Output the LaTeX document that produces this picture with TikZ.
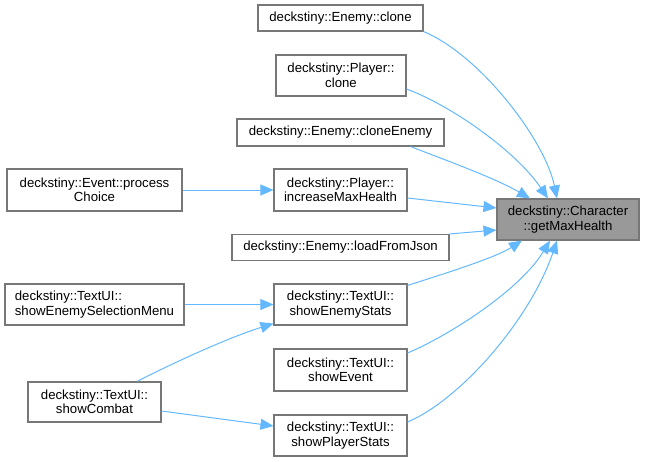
\documentclass[tikz,border=0pt]{standalone}
\usepackage{fontspec}
\setmainfont{Liberation Sans}
\usetikzlibrary{arrows.meta}
\definecolor{edgeblue}{HTML}{63B8FF}
\definecolor{boxline}{HTML}{777777}
\definecolor{mainfill}{HTML}{999999}
\tikzset{
  fn/.style={draw=boxline, line width=1.1pt, fill=white, inner sep=0pt, align=center,
    font=\fontsize{13.2}{14.5}\selectfont},
  mainfn/.style={fn, fill=mainfill},
  call/.style={draw=edgeblue, line width=1pt, -{Triangle[length=13pt,width=11pt]}}
}
\begin{document}
\begin{tikzpicture}[x=1pt,y=-1pt]
\useasboundingbox (0,0) rectangle (645,461);
% nodes
\node[fn, minimum width=165pt, minimum height=26pt] (ec) at (340.5,18) {deckstiny::Enemy::clone};
\node[fn, minimum width=130pt, minimum height=41pt] (pc) at (341,75.5) {deckstiny::Player::\\clone};
\node[fn, minimum width=207pt, minimum height=27pt] (ece) at (340.5,132.5) {deckstiny::Enemy::cloneEnemy};
\node[fn, minimum width=175pt, minimum height=42pt] (epc) at (94.5,190) {deckstiny::Event::process\\Choice};
\node[fn, minimum width=133pt, minimum height=42pt] (pim) at (340.5,190) {deckstiny::Player::\\increaseMaxHealth};
\node[mainfn, minimum width=142pt, minimum height=41pt] (cg) at (568,219.5) {deckstiny::Character\\::getMaxHealth};
\node[fn, minimum width=217pt, minimum height=26pt] (elj) at (340.5,247.5) {deckstiny::Enemy::loadFromJson};
\node[fn, minimum width=179pt, minimum height=41pt, align=left] (tesm) at (94.5,304.5) {deckstiny::TextUI::\\showEnemySelectionMenu};
\node[fn, minimum width=133pt, minimum height=41pt] (tes) at (340.5,304.5) {deckstiny::TextUI::\\showEnemyStats};
\node[fn, minimum width=133pt, minimum height=42pt] (tev) at (340.5,370) {deckstiny::TextUI::\\showEvent};
\node[fn, minimum width=133pt, minimum height=40pt] (tc) at (94.5,402) {deckstiny::TextUI::\\showCombat};
\node[fn, minimum width=133pt, minimum height=41pt] (tps) at (340.5,435.5) {deckstiny::TextUI::\\showPlayerStats};
% edges to getMaxHealth
\draw[call] (ec.south east) .. controls (480,55) and (545,140) .. ([xshift=-11pt]cg.north);
\draw[call] ([yshift=-13.5pt]pc.east) .. controls (450,105) and (515,150) .. ([xshift=-20pt]cg.north);
\draw[call] ([xshift=-34pt]ece.south east) .. controls (445,160) and (495,178) .. ([xshift=-38pt]cg.north);
\draw[call] ([yshift=-8pt]pim.east) -- ([yshift=11.5pt]cg.west);
\draw[call] (elj.north east) -- ([yshift=-10.5pt]cg.west);
\draw[call] ([yshift=-2pt]tes.north east) .. controls (440,275) and (495,258) .. ([xshift=-46pt]cg.south);
\draw[call] ([yshift=17pt]tev.east) .. controls (450,335) and (520,290) .. ([xshift=-18pt]cg.south);
\draw[call] ([yshift=13.5pt]tps.east) .. controls (460,400) and (530,320) .. ([xshift=-11pt]cg.south);
% other edges
\draw[call] (epc.east) -- (pim.west);
\draw[call] (tesm.east) -- (tes.west);
\draw[call] ([xshift=42.5pt]tc.north) .. controls (175,362) and (230,337) .. ([yshift=2pt]tes.south west);
\draw[call] ([yshift=-9pt]tc.east) -- ([yshift=9.5pt]tps.west);
\end{tikzpicture}
\end{document}
